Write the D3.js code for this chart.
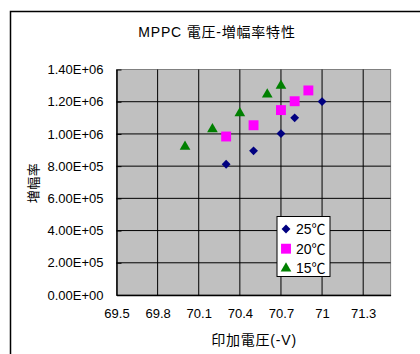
<!DOCTYPE html>
<html><head><meta charset="utf-8">
<script src="https://cdn.jsdelivr.net/npm/d3@7"></script>
<style>
html,body{margin:0;padding:0;background:#fff;}
svg{display:block;}
text{font-family:"Liberation Sans","Noto Sans CJK JP",sans-serif;fill:#000;}
</style></head>
<body>
<svg id="chart" width="420" height="354"></svg>
<script>
const title = "MPPC 電圧-増幅率特性";
const xTitle = "印加電圧(-V)";
const yTitle = "増幅率";
const xTicks = [69.5, 69.8, 70.1, 70.4, 70.7, 71.0, 71.3];
const yTicks = [0, 200000, 400000, 600000, 800000, 1000000, 1200000, 1400000];
const seriesNames = ["25℃", "20℃", "15℃"];
const v25 = [70.3, 70.5, 70.7, 70.8, 71.0];
const g25 = [812000, 895000, 1002000, 1100000, 1201000];
const v20 = [70.3, 70.5, 70.7, 70.8, 70.9];
const g20 = [984000, 1054000, 1148000, 1203000, 1270000];
const v15 = [70.0, 70.2, 70.4, 70.6, 70.7];
const g15 = [921000, 1030000, 1129000, 1245000, 1299000];

const svg = d3.select("#chart");
const L = 116.5, R = 390.6, T = 69.5, B = 295;
const x = d3.scaleLinear().domain([69.5, 71.5]).range([L, R]);
const y = d3.scaleLinear().domain([0, 1400000]).range([B, T]);

// outer chart border
svg.append("rect").attr("x", 10.5).attr("y", 11.5).attr("width", 440).attr("height", 400)
  .attr("fill", "#fff").attr("stroke", "#000").attr("stroke-width", 1.5);

// plot area
svg.append("rect").attr("x", L).attr("y", T).attr("width", R - L).attr("height", B - T)
  .attr("fill", "#c0c0c0").attr("stroke", "#808080").attr("stroke-width", 1);

const grid = svg.append("g");
grid.selectAll("line.h").data(yTicks.filter(d => d > 0 && d < 1400000)).join("line")
  .attr("x1", L).attr("x2", R).attr("y1", d => y(d)).attr("y2", d => y(d))
  .attr("stroke", "#000").attr("stroke-width", 1);
grid.selectAll("line.v").data(xTicks.filter(d => d > 69.5)).join("line")
  .attr("y1", T).attr("y2", B).attr("x1", d => x(d)).attr("x2", d => x(d))
  .attr("stroke", "#000").attr("stroke-width", 1);

// axes
const yAxis = d3.axisLeft(y).tickValues(yTicks).tickSizeInner(-5).tickSizeOuter(0)
  .tickFormat(d => d3.format(".2e")(d).replace("e+", "E+0").replace(/E\+0(\d\d)/, "E+$1"));
const ga = svg.append("g").attr("transform", `translate(${L},0)`).call(yAxis);
ga.select(".domain").attr("stroke", "#000").attr("stroke-width", 1.5);
ga.selectAll(".tick line").attr("stroke", "#000");
ga.selectAll(".tick text").attr("x", -13).attr("font-size", 13);

const xAxis = d3.axisBottom(x).tickValues(xTicks).tickSize(0).tickFormat(d => String(d));
const gx = svg.append("g").attr("transform", `translate(0,${B})`).call(xAxis);
gx.select(".domain").attr("stroke", "#000").attr("stroke-width", 1.5);
gx.selectAll(".tick text").attr("y", 23).attr("dy", "0").attr("font-size", 13);

svg.selectAll(".tick text").attr("font-family", "Liberation Sans, Noto Sans CJK JP, sans-serif").attr("fill", "#000");

// titles
svg.append("text").attr("x", 217).attr("y", 37).attr("text-anchor", "middle")
  .attr("font-size", 14).attr("letter-spacing", 0.8).text(title);
svg.append("text").attr("x", 254).attr("y", 345).attr("text-anchor", "middle")
  .attr("font-size", 14).attr("letter-spacing", 0.8).text(xTitle);
svg.append("text").attr("transform", "translate(38,183) rotate(-90)").attr("text-anchor", "middle")
  .attr("font-size", 13).attr("letter-spacing", 0.5).text(yTitle);

// markers
const diamond = d3.symbol().type(d3.symbolDiamond2).size(50)();
const square = d3.symbol().type(d3.symbolSquare2).size(125)();
const tri = d3.symbol().type(d3.symbolTriangle2).size(82)();
const series = [
  {name: seriesNames[0], v: v25, g: g25, path: diamond, color: "#000080"},
  {name: seriesNames[1], v: v20, g: g20, path: square, color: "#ff00ff"},
  {name: seriesNames[2], v: v15, g: g15, path: tri, color: "#008000"}
];
series.forEach(s => {
  svg.append("g").selectAll("path").data(s.v.map((v, i) => [v, s.g[i]])).join("path")
    .attr("d", s.path).attr("fill", s.color)
    .attr("transform", d => `translate(${x(d[0])},${y(d[1])})`);
});

// legend
const lg = svg.append("g");
lg.append("rect").attr("x", 277).attr("y", 216.5).attr("width", 53).attr("height", 60)
  .attr("fill", "#fff").attr("stroke", "#000").attr("stroke-width", 1);
series.forEach((s, i) => {
  const cy = 229 + i * 19.7;
  lg.append("path").attr("d", s.path).attr("fill", s.color).attr("transform", `translate(286,${cy})`);
  lg.append("text").attr("x", 296).attr("y", cy + 5).attr("font-size", 14).text(s.name);
});
</script>
</body></html>
